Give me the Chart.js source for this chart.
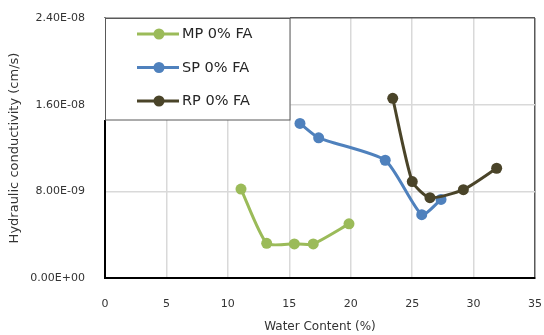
<!DOCTYPE html>
<html>
<head>
<meta charset="utf-8">
<script src="https://cdn.jsdelivr.net/npm/chart.js@4/dist/chart.umd.min.js"></script>
<style>
  html, body { margin: 0; padding: 0; background: #fff; }
  #wrap { width: 544px; height: 335px; position: relative; }
</style>
</head>
<body>
<div id="wrap"><canvas id="c" width="544" height="335"></canvas></div>
<script>
// Hydraulic conductivity vs. water content for three soils (0% fly ash)
const seriesNames = ['MP 0% FA', 'SP 0% FA', 'RP 0% FA'];
const seriesColors = ['#9bbb59', '#4f81bd', '#4a4429'];

const mpWater = [11.07, 13.16, 15.41, 16.95, 19.86];
const mpK     = [8.21e-9, 3.2e-9, 3.15e-9, 3.15e-9, 5.0e-9];

const spWater = [15.87, 17.39, 22.81, 25.78, 27.35];
const spK     = [1.427e-8, 1.294e-8, 1.087e-8, 5.85e-9, 7.25e-9];

const rpWater = [23.42, 25.01, 26.45, 29.17, 31.88];
const rpK     = [1.659e-8, 8.9e-9, 7.41e-9, 8.15e-9, 1.013e-8];

const xTicks = [0, 5, 10, 15, 20, 25, 30, 35];
const yTickValues = [0, 8e-9, 1.6e-8, 2.4e-8];
const yTickLabels = ['0.00E+00', '8.00E-09', '1.60E-08', '2.40E-08'];

const pts = (xs, ys) => xs.map((x, i) => ({ x: x, y: ys[i] }));

function series(i, xs, ys, order) {
  return {
    label: seriesNames[i],
    data: pts(xs, ys),
    borderColor: seriesColors[i],
    backgroundColor: seriesColors[i],
    borderWidth: 3,
    pointRadius: 5.5,
    pointHoverRadius: 5.5,
    pointBorderWidth: 0,
    tension: 0.2,
    order: order
  };
}

// Legend box drawn inside the upper-left corner of the plot area
const insideLegend = {
  id: 'insideLegend',
  afterDatasetsDraw(chart) {
    const ctx = chart.ctx;
    const a = chart.chartArea;
    const x0 = a.left, y0 = a.top;
    const w = 184.5, h = 101.5;
    ctx.save();
    ctx.fillStyle = '#ffffff';
    ctx.fillRect(x0 - 2, y0 - 0.5, w + 2.5, h + 1);
    ctx.strokeStyle = '#595959';
    ctx.lineWidth = 1;
    ctx.strokeRect(Math.round(x0) + 0.5, Math.round(y0) + 0.5, w, h);
    const rows = [y0 + 16, y0 + 49.5, y0 + 83];
    ctx.font = '14.5px "DejaVu Sans"';
    ctx.textBaseline = 'middle';
    ctx.textAlign = 'left';
    chart.data.datasets.forEach((ds, i) => {
      const y = rows[i];
      ctx.strokeStyle = ds.borderColor;
      ctx.lineWidth = 3;
      ctx.beginPath();
      ctx.moveTo(x0 + 32, y);
      ctx.lineTo(x0 + 74, y);
      ctx.stroke();
      ctx.fillStyle = ds.backgroundColor;
      ctx.beginPath();
      ctx.arc(x0 + 54, y, 5.5, 0, Math.PI * 2);
      ctx.fill();
      ctx.fillStyle = '#262626';
      ctx.fillText(ds.label, x0 + 77, y + 0.5);
    });
    ctx.restore();
  }
};

const frameColor = '#595959';
const gridColor = '#d9d9d9';

new Chart(document.getElementById('c'), {
  type: 'line',
  data: {
    datasets: [
      series(0, mpWater, mpK, 3),
      series(1, spWater, spK, 2),
      series(2, rpWater, rpK, 1)
    ]
  },
  options: {
    responsive: false,
    animation: false,
    devicePixelRatio: 1,
    layout: { padding: { left: 0, right: 9, top: 18, bottom: 0 } },
    plugins: { legend: { display: false }, tooltip: { enabled: false } },
    scales: {
      x: {
        type: 'linear',
        min: 0, max: 35,
        afterBuildTicks(scale) { scale.ticks = xTicks.map(v => ({ value: v })); },
        afterFit(scale) {
          scale.height = 57;
          scale.paddingLeft = 0;
          scale.paddingRight = 0;
        },
        grid: {
          drawTicks: false,
          lineWidth: 1.5,
          color: c => (c.tick && c.tick.value === 35) ? frameColor : gridColor
        },
        border: { color: '#000000', width: 2 },
        ticks: {
          padding: 20,
          color: '#333333',
          font: { family: 'DejaVu Sans', size: 11 }
        },
        title: {
          display: true,
          text: 'Water Content (%)',
          color: '#333333',
          font: { family: 'DejaVu Sans', size: 12 },
          padding: { top: 0, bottom: 1 }
        }
      },
      y: {
        type: 'linear',
        min: 0, max: 2.4e-8,
        afterBuildTicks(scale) { scale.ticks = yTickValues.map(v => ({ value: v })); },
        afterFit(scale) {
          scale.width = 105;
          scale.paddingTop = 0;
          scale.paddingBottom = 0;
        },
        grid: {
          drawTicks: false,
          lineWidth: 1.5,
          color: c => (c.tick && c.index === yTickValues.length - 1) ? frameColor : gridColor
        },
        border: { color: '#000000', width: 2 },
        ticks: {
          padding: 20,
          color: '#333333',
          font: { family: 'DejaVu Sans', size: 11 },
          callback: (v, i) => yTickLabels[i]
        },
        title: {
          display: true,
          text: 'Hydraulic conductivity (cm/s)',
          color: '#333333',
          font: { family: 'DejaVu Sans', size: 13 },
          padding: { top: 7, bottom: 0 }
        }
      }
    }
  },
  plugins: [insideLegend]
});
</script>
</body>
</html>
